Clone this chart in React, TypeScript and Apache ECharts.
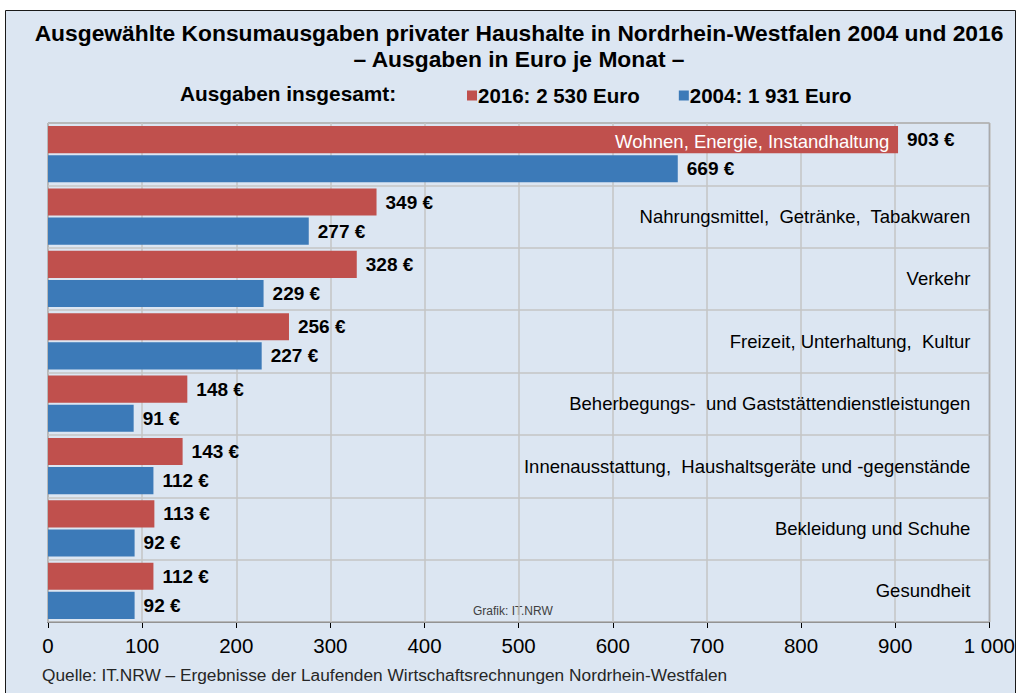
import React, { useEffect, useRef } from "react";
import * as echarts from "echarts";

const categories = [
  "Wohnen, Energie, Instandhaltung",
  "Nahrungsmittel,  Getränke,  Tabakwaren",
  "Verkehr",
  "Freizeit, Unterhaltung,  Kultur",
  "Beherbegungs-  und Gaststättendienstleistungen",
  "Innenausstattung,  Haushaltsgeräte und -gegenstände",
  "Bekleidung und Schuhe",
  "Gesundheit",
];
const values2016 = [903, 349, 328, 256, 148, 143, 113, 112];
const values2004 = [669, 277, 229, 227, 91, 112, 92, 92];
const seriesNames = ["2016", "2004"];
const totals = ["2 530", "1 931"];
const xTicks = [0, 100, 200, 300, 400, 500, 600, 700, 800, 900, 1000];

const RED = "#c0504d";
const BLUE = "#3c7ab8";
const FONT = "'Liberation Sans', Arial, sans-serif";

export default function App() {
  const ref = useRef<HTMLDivElement>(null);
  useEffect(() => {
    if (!ref.current) return;
    const chart = echarts.init(ref.current, null, { renderer: "svg" });
    const fmtNum = (v: number) =>
      v >= 1000 ? `${Math.floor(v / 1000)} ${String(v % 1000).padStart(3, "0")}` : String(v);
    const valueLabel = {
      show: true,
      position: "right",
      distance: 9,
      formatter: (p: any) => `${p.value} €`,
      fontSize: 19,
      fontWeight: "bold",
      color: "#000",
      fontFamily: FONT,
    };
    chart.setOption({
      animation: false,
      backgroundColor: "#ffffff",
      textStyle: { fontFamily: FONT },
      title: {
        text: "Ausgewählte Konsumausgaben privater Haushalte in Nordrhein-Westfalen 2004 und 2016\n– Ausgaben in Euro je Monat –",
        left: 514,
        textAlign: "center",
        top: 15,
        textStyle: { fontSize: 22.8, fontWeight: "bold", color: "#000", lineHeight: 26, fontFamily: FONT },
      },
      legend: {
        top: 80,
        left: 462,
        itemWidth: 10,
        itemHeight: 10,
        itemGap: 39,
        icon: "rect",
        data: seriesNames,
        formatter: (name: string) => `${name}: ${totals[seriesNames.indexOf(name)]} Euro`,
        textStyle: { fontSize: 20.5, fontWeight: "bold", color: "#000", padding: [0, 0, 0, -4], fontFamily: FONT },
      },
      graphic: [
        {
          type: "rect",
          z: -10,
          shape: { x: 5.5, y: 10.5, width: 1010, height: 690 },
          style: { fill: "#dce6f2", stroke: "#1a1a1a", lineWidth: 1 },
          silent: true,
        },
        {
          type: "text",
          x: 180,
          y: 83,
          style: { text: "Ausgaben insgesamt:", font: `bold 20.8px ${FONT}`, fill: "#000" },
        },
        {
          type: "text",
          x: 473,
          y: 605,
          style: { text: "Grafik: IT.NRW", font: `12px ${FONT}`, fill: "#404040" },
        },
        {
          type: "text",
          x: 42,
          y: 666,
          style: {
            text: "Quelle: IT.NRW – Ergebnisse der Laufenden Wirtschaftsrechnungen Nordrhein-Westfalen",
            font: `17.3px ${FONT}`,
            fill: "#262626",
          },
        },
      ],
      grid: { left: 48, right: 28, top: 123, bottom: 71, show: true, borderColor: "#404040", borderWidth: 1, backgroundColor: "transparent" },
      xAxis: {
        type: "value",
        min: 0,
        max: 1000,
        interval: 100,
        axisLine: { show: true, lineStyle: { color: "#000", width: 1 } },
        axisTick: { show: true, length: 6, lineStyle: { color: "#000" } },
        splitLine: { show: true, lineStyle: { color: "#c4c4c4", width: 1.5 } },
        axisLabel: {
          margin: 13,
          fontSize: 20.5,
          color: "#000",
          fontFamily: FONT,
          formatter: (v: number) => (xTicks.includes(v) ? fmtNum(v) : ""),
        },
      },
      yAxis: {
        type: "category",
        inverse: true,
        position: "right",
        data: categories,
        axisLine: { show: false },
        axisTick: { show: false },
        splitLine: { show: true, lineStyle: { color: "#c4c4c4", width: 1.5 } },
        axisLabel: {
          inside: true,
          margin: 19,
          fontFamily: FONT,
          formatter: (v: string, i: number) => (i === 0 ? `{w|${v}}` : `{n|${v}}`),
          rich: {
            w: { color: "#ffffff", fontSize: 18.5, padding: [0, 81, 26, 0], fontFamily: FONT },
            n: { color: "#000", fontSize: 18.5, fontFamily: FONT },
          },
        },
        z: 10,
      },
      series: [
        {
          name: seriesNames[0],
          type: "bar",
          data: values2016,
          itemStyle: { color: RED },
          barCategoryGap: "10%",
          barGap: "7%",
          label: valueLabel,
        },
        {
          name: seriesNames[1],
          type: "bar",
          data: values2004,
          itemStyle: { color: BLUE },
          barCategoryGap: "10%",
          barGap: "7%",
          label: valueLabel,
        },
      ],
    });
    return () => chart.dispose();
  }, []);
  return <div ref={ref} style={{ position: "absolute", left: 0, top: 0, width: 1018, height: 693 }} />;
}
